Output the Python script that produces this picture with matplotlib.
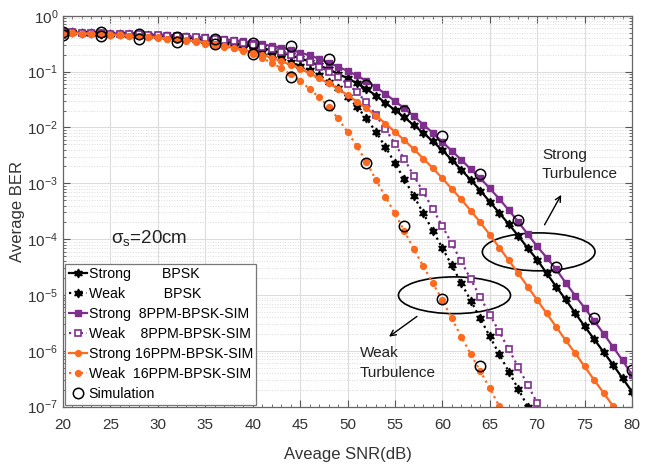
import numpy as np
import matplotlib
matplotlib.use('Agg')
import matplotlib.pyplot as plt
from matplotlib.patches import Ellipse
from matplotlib.ticker import MultipleLocator, LogLocator, NullFormatter, FixedLocator

plt.rcParams['font.family'] = ['Liberation Sans', 'DejaVu Sans']
plt.rcParams['mathtext.fontset'] = 'custom'
plt.rcParams['mathtext.rm'] = 'Liberation Sans'
plt.rcParams['mathtext.it'] = 'Liberation Sans:italic'
plt.rcParams['mathtext.default'] = 'regular'

# ---------------- data (log10 of average BER), SNR step 1 dB from 20 dB ----------------
snr_start = 20

strong_bpsk_log10 = [
    -0.30, -0.30, -0.31, -0.31, -0.32, -0.32, -0.33, -0.33, -0.34, -0.35,   # 20-29
    -0.36, -0.37, -0.38, -0.39, -0.41, -0.42, -0.44, -0.46, -0.49, -0.52,   # 30-39
    -0.55, -0.58, -0.62, -0.66, -0.71, -0.76, -0.82, -0.89, -0.96, -1.04,   # 40-49
    -1.12, -1.21, -1.31, -1.43, -1.56, -1.69, -1.82, -1.96, -2.10, -2.25,   # 50-59
    -2.41, -2.58, -2.76, -2.94, -3.13, -3.33, -3.53, -3.73, -3.94, -4.16,   # 60-69
    -4.37, -4.61, -4.85, -5.08, -5.32, -5.56, -5.79, -6.02, -6.25, -6.49,   # 70-79
    -6.73]                                                                  # 80

weak_bpsk_log10 = [
    -0.30, -0.30, -0.31, -0.31, -0.32, -0.33, -0.33, -0.34, -0.35, -0.36,
    -0.37, -0.38, -0.40, -0.41, -0.43, -0.45, -0.48, -0.50, -0.53, -0.57,
    -0.61, -0.65, -0.70, -0.76, -0.83, -0.90, -0.98, -1.07, -1.18, -1.30,
    -1.45, -1.63, -1.84, -2.08, -2.35, -2.64, -2.93, -3.23, -3.54, -3.85,
    -4.16, -4.47, -4.79, -5.10, -5.42, -5.74, -6.06, -6.37, -6.68, -7.00,
    -7.31]

strong_8ppm_log10 = [
    -0.30, -0.30, -0.31, -0.31, -0.31, -0.32, -0.32, -0.33, -0.33, -0.34,
    -0.34, -0.35, -0.36, -0.37, -0.38, -0.39, -0.41, -0.42, -0.44, -0.46,
    -0.48, -0.51, -0.54, -0.57, -0.61, -0.66, -0.71, -0.77, -0.84, -0.91,
    -0.99, -1.07, -1.17, -1.28, -1.40, -1.53, -1.66, -1.80, -1.95, -2.10,
    -2.26, -2.42, -2.58, -2.75, -2.91, -3.09, -3.28, -3.48, -3.69, -3.91,
    -4.13, -4.33, -4.54, -4.78, -5.01, -5.23, -5.46, -5.69, -5.93, -6.17,
    -6.43]

weak_8ppm_log10 = [
    -0.30, -0.30, -0.31, -0.31, -0.31, -0.32, -0.32, -0.33, -0.33, -0.34,
    -0.35, -0.36, -0.37, -0.38, -0.39, -0.40, -0.42, -0.44, -0.46, -0.49,
    -0.52, -0.56, -0.60, -0.65, -0.70, -0.76, -0.83, -0.91, -1.00, -1.10,
    -1.22, -1.37, -1.55, -1.78, -2.03, -2.29, -2.57, -2.87, -3.16, -3.46,
    -3.77, -4.08, -4.40, -4.72, -5.04, -5.35, -5.66, -5.97, -6.29, -6.61,
    -6.93, -7.25]

strong_16ppm_log10 = [
    -0.31, -0.31, -0.32, -0.32, -0.33, -0.34, -0.35, -0.36, -0.37, -0.38,
    -0.39, -0.41, -0.42, -0.44, -0.46, -0.48, -0.51, -0.54, -0.57, -0.61,
    -0.65, -0.70, -0.75, -0.81, -0.88, -0.95, -1.03, -1.12, -1.21, -1.31,
    -1.42, -1.54, -1.66, -1.79, -1.93, -2.08, -2.23, -2.39, -2.56, -2.73,
    -2.91, -3.10, -3.29, -3.49, -3.70, -3.92, -4.15, -4.38, -4.61, -4.85,
    -5.09, -5.33, -5.57, -5.81, -6.04, -6.28, -6.52, -6.75, -6.99, -7.23]

weak_16ppm_log10 = [
    -0.31, -0.31, -0.32, -0.32, -0.33, -0.34, -0.35, -0.36, -0.37, -0.38,
    -0.40, -0.41, -0.43, -0.45, -0.47, -0.50, -0.53, -0.56, -0.58, -0.63,
    -0.69, -0.76, -0.84, -0.94, -1.05, -1.17, -1.31, -1.46, -1.63, -1.84,
    -2.08, -2.34, -2.62, -2.94, -3.24, -3.54, -3.86, -4.18, -4.49, -4.79,
    -5.09, -5.42, -5.75, -6.06, -6.36, -6.67, -6.99, -7.30]

sim_strong_snr = [20, 24, 28, 32, 36, 40, 44, 48, 52, 56, 60, 64, 68, 72, 76, 80]
sim_strong_log10 = [-0.29, -0.29, -0.33, -0.39, -0.42, -0.49, -0.55, -0.78,
                    -1.24, -1.71, -2.15, -2.84, -3.65, -4.50, -5.42, -6.34]
sim_weak_snr = [20, 24, 28, 32, 36, 40, 44, 48, 52, 56, 60, 64]
sim_weak_log10 = [-0.35, -0.36, -0.42, -0.47, -0.51, -0.69, -1.09, -1.60,
                  -2.64, -3.76, -5.07, -6.28]

labels = ["Strong" + " " * 8 + "BPSK", "Weak" + " " * 10 + "BPSK",
          "Strong  8PPM-BPSK-SIM", "Weak    8PPM-BPSK-SIM",
          "Strong 16PPM-BPSK-SIM", "Weak  16PPM-BPSK-SIM", "Simulation"]

xticks = [20, 25, 30, 35, 40, 45, 50, 55, 60, 65, 70, 75, 80]
yticks = [1e-7, 1e-6, 1e-5, 1e-4, 1e-3, 1e-2, 1e-1, 1e0]

# ---------------- styling ----------------
PURPLE = '#7E2F8E'
ORANGE = '#FF6A21'
BLACK = '#000000'


def series(vals):
    x = np.arange(snr_start, snr_start + len(vals))
    return x, 10.0 ** np.asarray(vals)


fig = plt.figure(figsize=(6.51, 4.65), dpi=100)
ax = fig.add_axes([0.0968, 0.1254, 0.8740, 0.8408])

star = (6, 1, 0)
handles = []
h, = ax.plot(*series(strong_bpsk_log10), '-', color=BLACK, lw=1.6, marker=star, ms=6.3, mfc=BLACK, mec=BLACK)
handles.append(h)
h, = ax.plot(*series(weak_bpsk_log10), ':', color=BLACK, lw=1.6, marker=star, ms=6.3, mfc=BLACK, mec=BLACK)
handles.append(h)
h, = ax.plot(*series(strong_8ppm_log10), '-', color=PURPLE, lw=1.6, marker='s', ms=4.5, mfc=PURPLE, mec=PURPLE)
handles.append(h)
h, = ax.plot(*series(weak_8ppm_log10), ':', color=PURPLE, lw=1.6, marker='s', ms=4.5, mfc='white', mec=PURPLE, mew=1.2)
handles.append(h)
h, = ax.plot(*series(strong_16ppm_log10), '-', color=ORANGE, lw=1.6, marker='o', ms=4.2, mfc=ORANGE, mec=ORANGE)
handles.append(h)
h, = ax.plot(*series(weak_16ppm_log10), ':', color=ORANGE, lw=1.6, marker='o', ms=4.2, mfc=ORANGE, mec=ORANGE)
handles.append(h)
h, = ax.plot(sim_strong_snr, 10.0 ** np.asarray(sim_strong_log10), 'o', ms=7.5, mfc='none', mec=BLACK, mew=1.1)
handles.append(h)
ax.plot(sim_weak_snr, 10.0 ** np.asarray(sim_weak_log10), 'o', ms=7.5, mfc='none', mec=BLACK, mew=1.1)

ax.set_yscale('log')
ax.set_xlim(20, 80)
ax.set_ylim(1e-7, 1)
ax.set_xticks(xticks)
ax.xaxis.set_minor_locator(MultipleLocator(1))
ax.yaxis.set_major_locator(FixedLocator(yticks))
ax.yaxis.set_minor_locator(LogLocator(base=10, subs=np.arange(2, 10), numticks=20))
ax.yaxis.set_minor_formatter(NullFormatter())

ax.grid(True, which='major', color='#dcdcdc', lw=0.8, ls='-')
ax.grid(True, which='minor', axis='y', color='#dcdcdc', lw=0.7, ls=':')
ax.set_axisbelow(True)

ax.tick_params(which='both', direction='in', top=True, right=True, colors='#555555', labelcolor='#333333')
ax.tick_params(which='major', length=5, labelsize=11)
ax.tick_params(axis='x', which='major', pad=8)
ax.tick_params(which='minor', length=2.5)
for s in ax.spines.values():
    s.set_color('#666666')
    s.set_linewidth(0.9)

ax.set_xlabel('Aveage SNR(dB)', fontsize=12, color='#333333', labelpad=11)
ax.set_ylabel('Average BER', fontsize=12, color='#333333', labelpad=2)

leg = ax.legend(handles, labels, loc='lower left', fontsize=10.2, handlelength=1.3,
                handletextpad=0.1, labelspacing=0.42, borderpad=0.25, borderaxespad=0.15,
                fancybox=False, framealpha=1, edgecolor='#777777')
leg.get_frame().set_linewidth(0.9)

# annotations
ax.add_patch(Ellipse((0.836, 0.396), 0.198, 0.097, transform=ax.transAxes,
                     fill=False, ec='black', lw=1.2))
ax.add_patch(Ellipse((0.688, 0.285), 0.197, 0.094, transform=ax.transAxes,
                     fill=False, ec='black', lw=1.2))
ax.annotate('', xy=(0.878, 0.548), xytext=(0.844, 0.459), xycoords='axes fraction',
            arrowprops=dict(arrowstyle='->', color='black', lw=1.0))
ax.annotate('', xy=(0.569, 0.175), xytext=(0.626, 0.235), xycoords='axes fraction',
            arrowprops=dict(arrowstyle='->', color='black', lw=1.0))
ax.text(0.842, 0.662, 'Strong\nTurbulence', transform=ax.transAxes, fontsize=11,
        ha='left', va='top', linespacing=1.5, color='#222222')
ax.text(0.522, 0.155, 'Weak\nTurbulence', transform=ax.transAxes, fontsize=11,
        ha='left', va='top', linespacing=1.5, color='#222222')
ax.text(0.084, 0.419, r'$\sigma_s$=20cm', transform=ax.transAxes, fontsize=13.5,
        ha='left', va='baseline', color='#222222')

fig.savefig('out.png', dpi=100)
